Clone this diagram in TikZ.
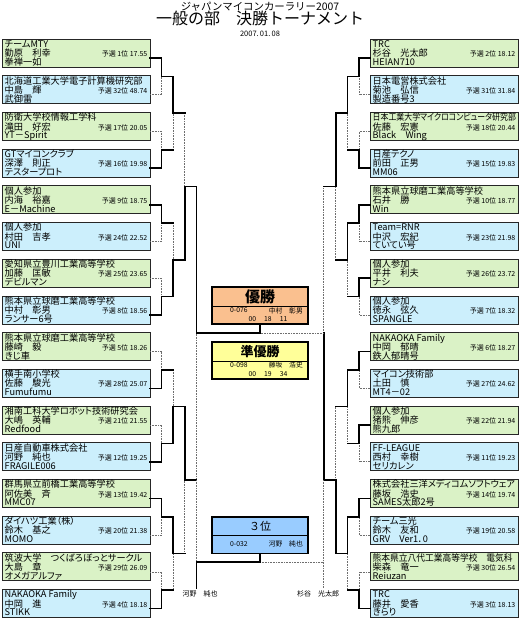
\documentclass[tikz,border=0pt]{standalone}
\usepackage{fontspec}
\setmainfont{Noto Sans CJK JP}
\newfontfamily\pjp{Noto Sans CJK JP}[RawFeature=+palt]
\usetikzlibrary{calc}
\definecolor{cgreen}{RGB}{218,242,198}
\definecolor{cblue}{RGB}{204,239,252}
\definecolor{cwin}{RGB}{250,192,143}
\definecolor{csec}{RGB}{255,255,153}
\definecolor{cthird}{RGB}{153,204,255}
\definecolor{cline}{RGB}{110,110,110}
\tikzset{
  entrybox/.style={draw=black!85, line width=0.8pt, minimum width=148pt, minimum height=28pt, inner sep=0pt, outer sep=0pt, anchor=north west},
  orgtxt/.style={anchor=base west, inner sep=0pt, font=\pjp\fontsize{9.2}{9.5}\selectfont},
  ranktxt/.style={anchor=base east, inner sep=0pt, font=\pjp\fontsize{7}{8}\selectfont},
  winline/.style={line width=1.6pt, black, line cap=rect},
  loseline/.style={line width=0.6pt, cline, dash pattern=on 0.8pt off 0.8pt},
  resbox/.style={draw=black, line width=1.2pt, minimum width=96pt, inner sep=0pt, outer sep=0pt, anchor=north west},
  smalltxt/.style={inner sep=0pt, font=\fontsize{6.8}{7}\selectfont},
  titletxt/.style={inner sep=0pt},
}
\newcommand\ebox[8]{%
  \node[entrybox, fill=#4] (#1) at (#2,#3) {};
  \node[orgtxt] (#1o) at ($(#1.north west)+(2.5,8.4)$) {#5};
  \node[orgtxt] (#1p) at ($(#1.north west)+(2.5,17.6)$) {#6};
  \node[ranktxt] (#1r) at ($(#1.north east)+(-2.5,17.6)$) {予選 #7};
  \node[orgtxt] (#1c) at ($(#1.north west)+(2.5,26.4)$) {#8};
}
\begin{document}
\begin{tikzpicture}[x=1pt,y=-1pt]
\fill[white] (0,0) rectangle (520,619);
\useasboundingbox (0,0) rectangle (520,619);

% title
\node[titletxt, font=\fontsize{10.4}{11}\selectfont] (t1) at (260,6.5) {ジャパンマイコンカーラリー2007};
\node[titletxt, font=\fontsize{16}{17}\selectfont] (t2) at (260,18.5) {一般の部　決勝トーナメント};
\node[titletxt, font=\fontsize{7.5}{8}\selectfont] (t3) at (260,34.3) {2007.\,01.\,08};

% left entries
\ebox{L1}{2}{39}{cgreen}{チームMTY}{勤原　利幸}{1位 17.55}{拳禅一如}
\ebox{L2}{2}{75.7}{cblue}{北海道工業大学電子計算機研究部}{中島　輝}{32位 48.74}{武御雷}
\ebox{L3}{2}{112.4}{cgreen}{防衛大学校情報工学科}{滝田　好宏}{17位 20.05}{YT－Spirit}
\ebox{L4}{2}{149.1}{cblue}{GTマイコンクラブ}{深澤　則正}{16位 19.98}{テスタープロト}
\ebox{L5}{2}{185.8}{cgreen}{個人参加}{内海　裕嘉}{9位 18.75}{E－Machine}
\ebox{L6}{2}{222.5}{cblue}{個人参加}{村田　吉孝}{24位 22.52}{UNI}
\ebox{L7}{2}{259.2}{cgreen}{愛知県立豊川工業高等学校}{加藤　匡敏}{25位 23.65}{デビルマン}
\ebox{L8}{2}{295.9}{cblue}{熊本県立球磨工業高等学校}{中村　彰男}{8位 18.56}{ランサー6号}
\ebox{L9}{2}{332.6}{cgreen}{熊本県立球磨工業高等学校}{藤崎　毅}{5位 18.26}{きじ車}
\ebox{L10}{2}{369.3}{cblue}{横手南小学校}{佐藤　駿光}{28位 25.07}{Fumufumu}
\ebox{L11}{2}{406}{cgreen}{湘南工科大学ロボット技術研究会}{大嶋　英輔}{21位 21.55}{Redfood}
\ebox{L12}{2}{442.7}{cblue}{日産自動車株式会社}{河野　純也}{12位 19.25}{FRAGILE006}
\ebox{L13}{2}{479.4}{cgreen}{群馬県立前橋工業高等学校}{阿佐美　斉}{13位 19.42}{MMC07}
\ebox{L14}{2}{516.1}{cblue}{ダイハツ工業（株）}{鈴木　基之}{20位 21.38}{MOMO}
\ebox{L15}{2}{552.8}{cgreen}{筑波大学　つくばろぼっとサークル}{大島　章}{29位 26.09}{オメガアルファ}
\ebox{L16}{2}{589.5}{cblue}{NAKAOKA Family}{中岡　進}{4位 18.18}{STIKK}

% right entries
\ebox{R1}{370}{39}{cgreen}{TRC}{杉谷　光太郎}{2位 18.12}{HEIAN710}
\ebox{R2}{370}{75.7}{cblue}{日本電営株式会社}{菊池　弘信}{31位 31.84}{製造番号3}
\ebox{R3}{370}{112.4}{cgreen}{\scalebox{0.86}[1]{日本工業大学マイクロコンピュータ研究部}}{佐藤　宏憲}{18位 20.44}{Black　Wing}
\ebox{R4}{370}{149.1}{cblue}{日産テクノ}{前田　正男}{15位 19.83}{MM06}
\ebox{R5}{370}{185.8}{cgreen}{熊本県立球磨工業高等学校}{石井　勝}{10位 18.77}{Win}
\ebox{R6}{370}{222.5}{cblue}{Team=RNR}{中沢　宏紀}{23位 21.98}{ていてい号}
\ebox{R7}{370}{259.2}{cgreen}{個人参加}{平井　利夫}{26位 23.72}{ナシ}
\ebox{R8}{370}{295.9}{cblue}{個人参加}{徳永　弦久}{7位 18.32}{SPANGLE}
\ebox{R9}{370}{332.6}{cgreen}{NAKAOKA Family}{中岡　郁晴}{6位 18.27}{鉄人郁晴号}
\ebox{R10}{370}{369.3}{cblue}{マイコン技術部}{土田　慎}{27位 24.62}{MT4－02}
\ebox{R11}{370}{406}{cgreen}{個人参加}{猪熊　伸彦}{22位 21.94}{熊九郎}
\ebox{R12}{370}{442.7}{cblue}{FF-LEAGUE}{西村　幸樹}{11位 19.23}{セリカレン}
\ebox{R13}{370}{479.4}{cgreen}{株式会社三洋メディコムソフトウェア}{藤坂　浩史}{14位 19.74}{SAMES太郎2号}
\ebox{R14}{370}{516.1}{cblue}{チーム三光}{鈴木　友和}{19位 20.58}{GRV　Ver1．0}
\ebox{R15}{370}{552.8}{cgreen}{\scalebox{0.95}[1]{熊本県立八代工業高等学校　電気科}}{柴森　竜一}{30位 26.54}{Reiuzan}
\ebox{R16}{370}{589.5}{cblue}{TRC}{藤井　愛香}{3位 18.13}{きらり}

% exits
\foreach \i in {1,...,16}{
  \coordinate (XL\i) at ($(L\i.north east)+(0,19)$);
  \coordinate (XR\i) at ($(R\i.north west)+(0,19)$);
}
% junctions
\foreach \k/\y in {1/76.35,2/149.75,3/223.15,4/296.55,5/369.95,6/443.35,7/516.75,8/590.15}{
  \coordinate (LA\k) at (161.5,\y); \coordinate (RA\k) at (359,\y);
}
\foreach \k/\y in {1/113.05,2/259.85,3/406.65,4/553.45}{
  \coordinate (LB\k) at (173,\y); \coordinate (RB\k) at (347.3,\y);
}
\foreach \k/\y in {1/186.45,2/480.05}{
  \coordinate (LC\k) at (184.7,\y); \coordinate (RC\k) at (335.7,\y);
}
\coordinate (LD) at (196.3,333.25);
\coordinate (RD) at (323.7,333.25);
\coordinate (F) at (260,333.25);

% result boxes
\node[resbox, fill=cwin, minimum height=37pt] (champ) at (212,287) {};
\draw[line width=0.8pt] ($(champ.north west)+(0,19.5)$) -- ($(champ.north east)+(0,19.5)$);
\node[titletxt, font=\bfseries\fontsize{15}{16}\selectfont] (champT) at ($(champ.north)+(0,10)$) {優勝};
\node[smalltxt, anchor=west] (champA) at ($(champ.north west)+(18,23.5)$) {0-076};
\node[smalltxt, anchor=east] (champB) at ($(champ.north east)+(-5,23.5)$) {中村　彰男};
\node[smalltxt] (champC) at ($(champ.north)+(8,32.5)$) {00\hspace{8pt}18\hspace{8pt}11};

\node[resbox, fill=csec, minimum height=37pt] (second) at (212,342) {};
\draw[line width=0.8pt] ($(second.north west)+(0,19)$) -- ($(second.north east)+(0,19)$);
\node[titletxt, font=\bfseries\fontsize{13}{14}\selectfont] (secondT) at ($(second.north)+(0,9.5)$) {準優勝};
\node[smalltxt, anchor=west] (secondA) at ($(second.north west)+(18,23)$) {0-098};
\node[smalltxt, anchor=east] (secondB) at ($(second.north east)+(-5,23)$) {藤坂　浩史};
\node[smalltxt] (secondC) at ($(second.north)+(8,32)$) {00\hspace{8pt}19\hspace{8pt}34};

\node[resbox, fill=cthird, minimum height=36.5pt] (third) at (212,517) {};
\draw[line width=0.8pt] ($(third.north west)+(0,18)$) -- ($(third.north east)+(0,18)$);
\node[titletxt, font=\fontsize{11}{12}\selectfont] (thirdT) at ($(third.north)+(0,9)$) {３位};
\node[smalltxt, anchor=west] (thirdA) at ($(third.north west)+(18,27)$) {0-032};
\node[smalltxt, anchor=east] (thirdB) at ($(third.north east)+(-5,27)$) {河野　純也};

% ---- left bracket
\foreach \i/\s in {1/winline,2/loseline,3/loseline,4/winline,5/winline,6/loseline,7/loseline,8/winline,9/loseline,10/winline,11/loseline,12/winline,13/winline,14/loseline,15/loseline,16/winline}{
  \pgfmathtruncatemacro\k{(\i+1)/2}
  \draw[\s] (XL\i) -| (LA\k);
}
\foreach \k/\s in {1/winline,2/loseline,3/loseline,4/winline,5/loseline,6/winline,7/winline,8/loseline}{
  \pgfmathtruncatemacro\j{(\k+1)/2}
  \draw[\s] (LA\k -| LB\j) -- (LB\j);
  \draw[winline] (LA\k) -- (LA\k -| LB\j);
}
\foreach \j/\s in {1/loseline,2/winline,3/winline,4/loseline}{
  \pgfmathtruncatemacro\h{(\j+1)/2}
  \draw[\s] (LB\j -| LC\h) -- (LC\h);
  \draw[winline] (LB\j) -- (LB\j -| LC\h);
}
\draw[loseline] (LC2 -| LD) -- (LD);
\draw[winline] (LC1 -| LD) -- (LD);
\draw[winline] (LC1) -- (LC1 -| LD);
\draw[winline] (LC2) -- (LC2 -| LD);

% ---- right bracket
\foreach \i/\s in {1/winline,2/loseline,3/loseline,4/winline,5/winline,6/loseline,7/winline,8/loseline,9/winline,10/loseline,11/winline,12/loseline,13/winline,14/loseline,15/loseline,16/winline}{
  \pgfmathtruncatemacro\k{(\i+1)/2}
  \draw[\s] (XR\i) -| (RA\k);
}
\foreach \k/\s in {1/winline,2/loseline,3/winline,4/loseline,5/winline,6/loseline,7/winline,8/loseline}{
  \pgfmathtruncatemacro\j{(\k+1)/2}
  \draw[\s] (RA\k -| RB\j) -- (RB\j);
  \draw[winline] (RA\k) -- (RA\k -| RB\j);
}
\foreach \j/\s in {1/winline,2/loseline,3/loseline,4/winline}{
  \pgfmathtruncatemacro\h{(\j+1)/2}
  \draw[\s] (RB\j -| RC\h) -- (RC\h);
  \draw[winline] (RB\j) -- (RB\j -| RC\h);
}
\draw[loseline] (RC1 -| RD) -- (RD);
\draw[winline] (RC2 -| RD) -- (RD);
\draw[winline] (RC1) -- (RC1 -| RD);
\draw[winline] (RC2) -- (RC2 -| RD);

% ---- final
\draw[loseline] (RD) -- (F);
\draw[winline] (LD) -- (F) -- (champ.south);

% ---- third place
\node[smalltxt, font=\fontsize{7}{8}\selectfont] (kL) at (200,594) {河野　純也};
\node[smalltxt, font=\fontsize{7}{8}\selectfont] (kR) at (318,594) {杉谷　光太郎};
\coordinate (T3) at (260,562);
\coordinate (KLt) at (196.3,588);
\coordinate (KRt) at (323.7,588);
\draw[loseline] (LC2 -| LD) -- (T3 -| LD);
\draw[loseline] (RC2 -| RD) -- (KRt);
\draw[loseline] (T3) -- (T3 -| RD);
\draw[winline] (KLt) |- (T3) -- (third.south);
\end{tikzpicture}
\end{document}
